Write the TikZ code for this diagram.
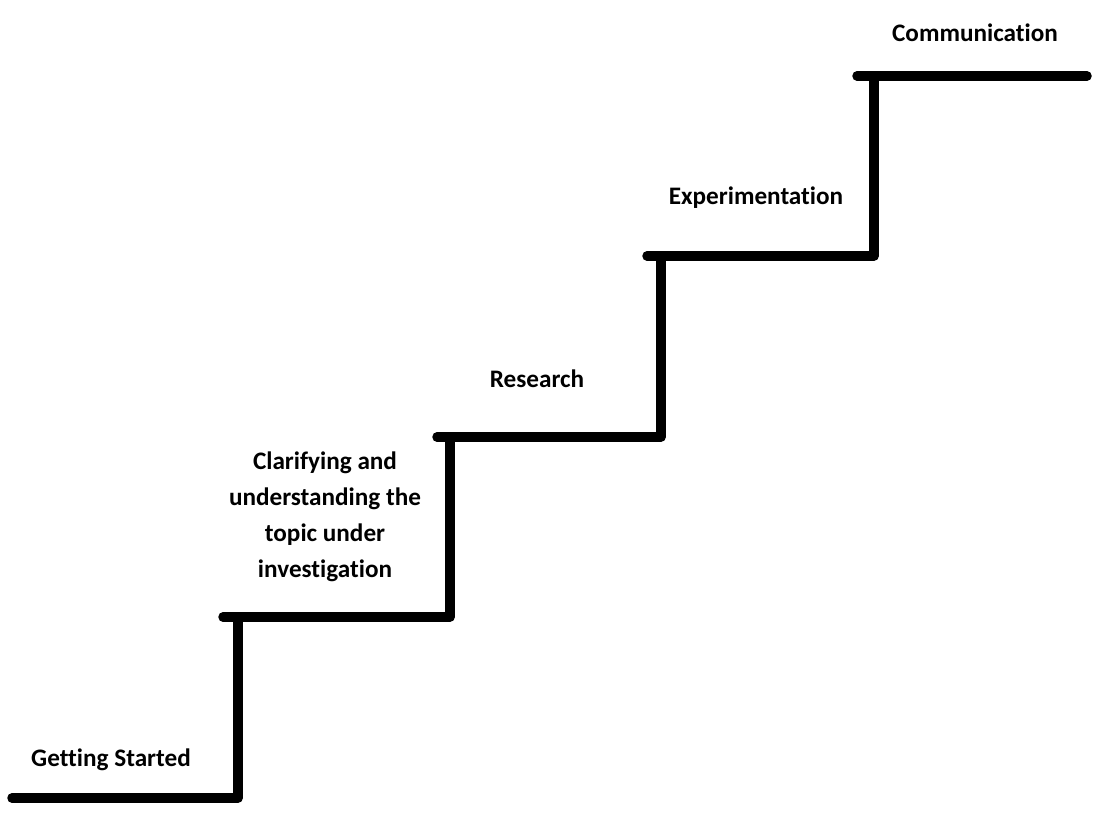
\documentclass[tikz,border=0pt]{standalone}
\usepackage{fontspec}
\setmainfont{Carlito}[Ligatures={NoCommon}]
\begin{document}
\begin{tikzpicture}[x=1pt,y=-1pt,
  stair/.style={line width=9.5pt, line cap=round, line join=round, black},
  lbl/.style={font=\bfseries\fontsize{25.2}{36}\selectfont, align=center, inner sep=0pt, text=black}]
\useasboundingbox (0,0) rectangle (1107,836);
\draw[stair] (12,798) -- (238,798) -- (238,617);
\draw[stair] (223,617) -- (450,617) -- (450,437);
\draw[stair] (437,437) -- (661,437) -- (661,256);
\draw[stair] (647,256) -- (874,256) -- (874,76);
\draw[stair] (857,76) -- (1087,76);
\node[lbl] (gs) at (111,760) {Getting Started};
\node[lbl] (cl) at (325,517) {Clarifying and\\understanding the\\topic under\\investigation};
\node[lbl] (rs) at (537,379) {Research};
\node[lbl] (ex) at (756,198) {Experimentation};
\node[lbl] (cm) at (975,33) {Communication};
\end{tikzpicture}
\end{document}
